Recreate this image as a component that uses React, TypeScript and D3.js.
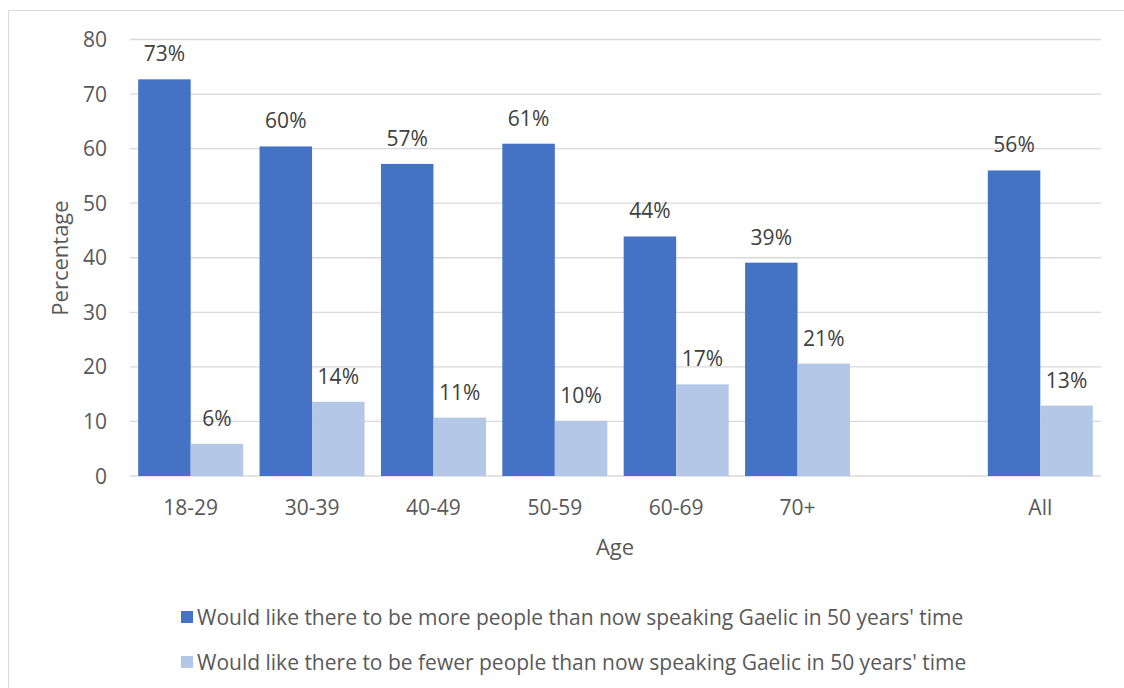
import React from "react";
import * as d3 from "d3";

const categories = ["18-29", "30-39", "40-49", "50-59", "60-69", "70+", "", "All"];
const moreValues: (number | null)[] = [72.7, 60.4, 57.2, 60.9, 43.9, 39.1, null, 56.0];
const fewerValues: (number | null)[] = [5.9, 13.6, 10.7, 10.1, 16.8, 20.6, null, 12.9];
const seriesNames = [
  "Would like there to be more people than now speaking Gaelic in 50 years' time",
  "Would like there to be fewer people than now speaking Gaelic in 50 years' time",
];
const seriesColors = ["#4472c4", "#b4c7e7"];
const yTicks = [0, 10, 20, 30, 40, 50, 60, 70, 80];

const W = 1124;
const H = 688;
const FONT = "'Open Sans', 'Noto Sans', sans-serif";

export default function App() {
  const x = d3
    .scaleBand<number>()
    .domain(categories.map((_, i) => i))
    .range([130, 1101])
    .paddingInner(0.135)
    .paddingOuter(0.0675);
  const sub = d3.scaleBand<number>().domain([0, 1]).range([0, x.bandwidth()]);
  const y = d3.scaleLinear().domain([0, 80]).range([476, 39.5]);
  const series = [moreValues, fewerValues];

  return (
    <svg
      width={W}
      height={H}
      style={{ position: "absolute", left: 0, top: 0, background: "#fff" }}
      fontFamily={FONT}
    >
      <rect x={8.5} y={10.5} width={W + 10} height={H + 10} fill="#fff" stroke="#d9d9d9" />
      {yTicks.map((t) => (
        <g key={t}>
          <line x1={130} x2={1101} y1={y(t)} y2={y(t)} stroke="#d9d9d9" strokeWidth={1.3} />
          <text x={107} y={y(t)} dy="0.36em" textAnchor="end" fontSize={21} fill="#595959">
            {t}
          </text>
        </g>
      ))}
      {series.map((vals, s) =>
        vals.map((v, i) =>
          v == null ? null : (
            <g key={`${s}-${i}`}>
              <rect
                x={(x(i) ?? 0) + (sub(s) ?? 0)}
                y={y(v)}
                width={sub.bandwidth()}
                height={y(0) - y(v)}
                fill={seriesColors[s]}
              />
              <text
                x={(x(i) ?? 0) + (sub(s) ?? 0) + sub.bandwidth() / 2}
                y={y(v) - 18}
                textAnchor="middle"
                fontSize={21}
                fill="#404040"
              >
                {Math.round(v)}%
              </text>
            </g>
          )
        )
      )}
      {categories.map((c, i) => (
        <text
          key={i}
          x={(x(i) ?? 0) + x.bandwidth() / 2}
          y={515}
          textAnchor="middle"
          fontSize={21}
          fill="#595959"
        >
          {c}
        </text>
      ))}
      <text x={615} y={555} textAnchor="middle" fontSize={22} fill="#595959">
        Age
      </text>
      <text
        transform="translate(68,258) rotate(-90)"
        textAnchor="middle"
        fontSize={22}
        fill="#595959"
      >
        Percentage
      </text>
      {seriesNames.map((n, s) => (
        <g key={n}>
          <rect x={181} y={611 + s * 45} width={12} height={12} fill={seriesColors[s]} />
          <text x={197} y={625 + s * 45} fontSize={21} fill="#595959">
            {n}
          </text>
        </g>
      ))}
    </svg>
  );
}
